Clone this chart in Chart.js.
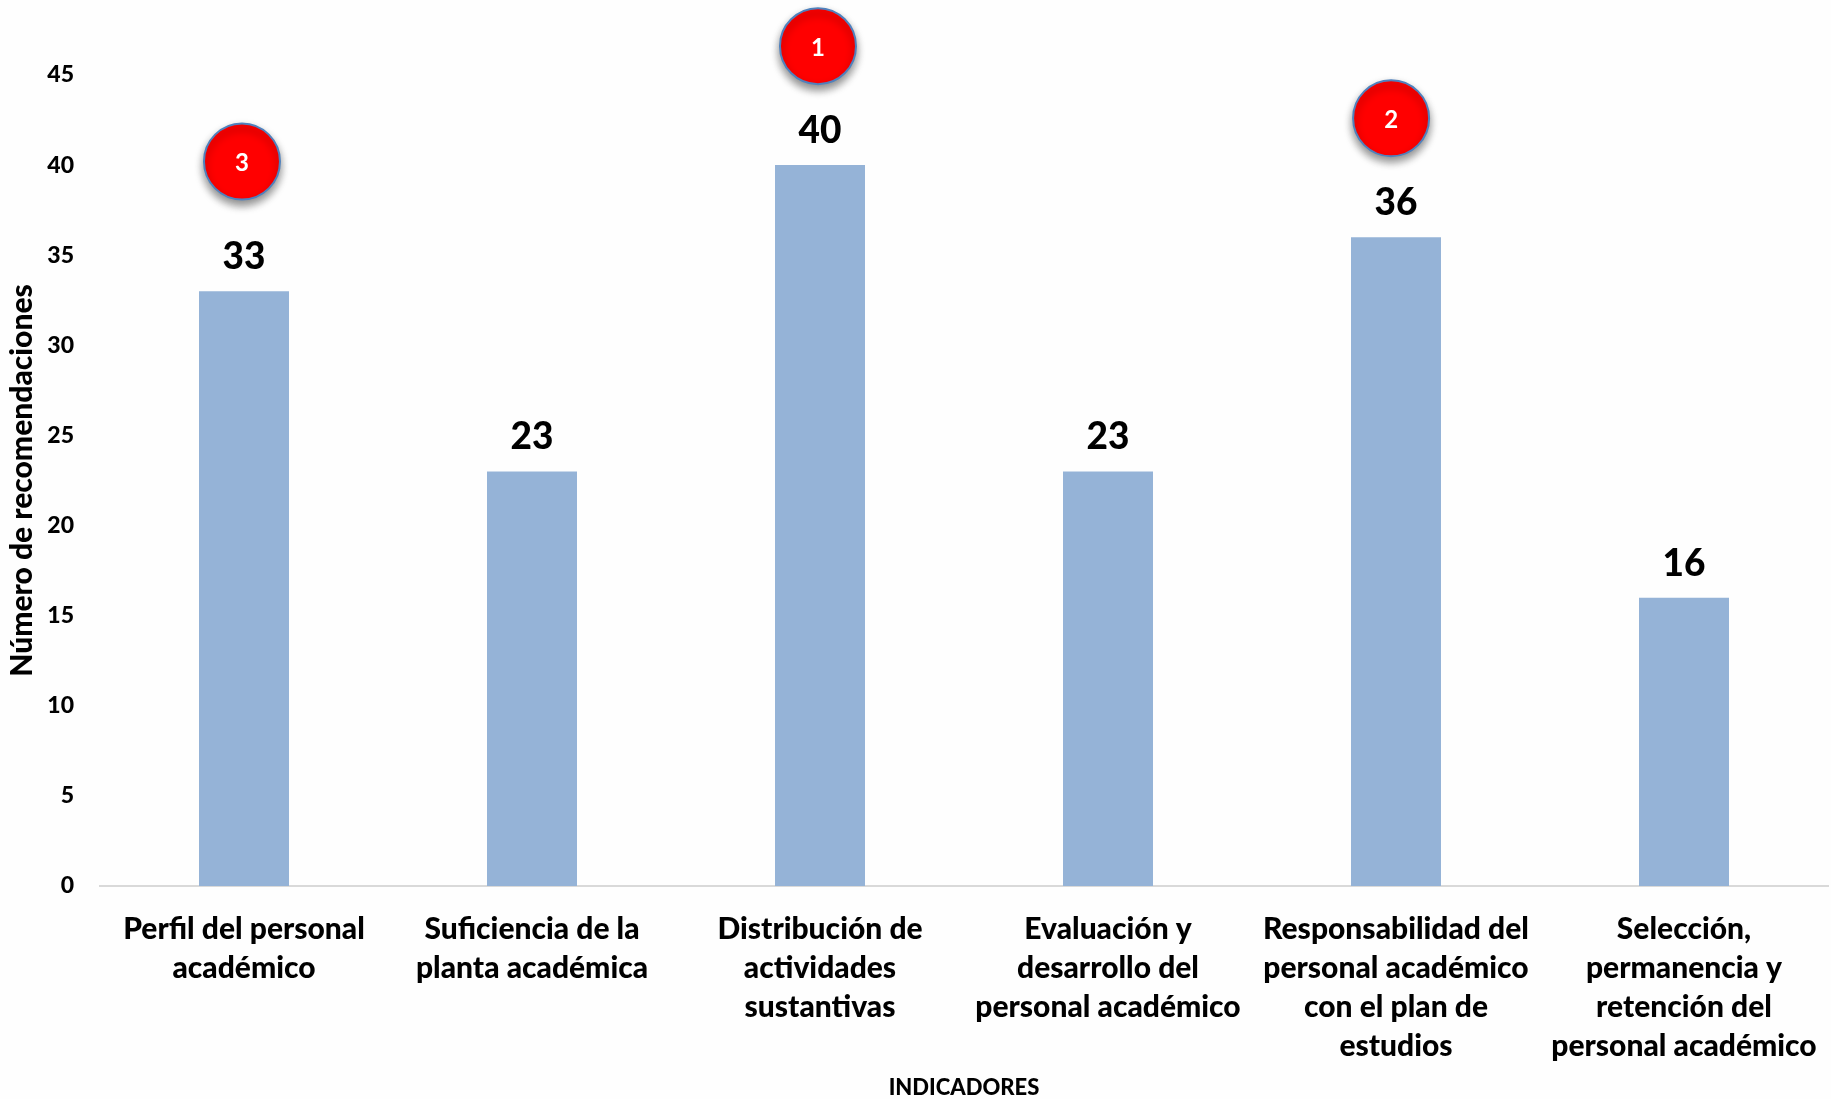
<!DOCTYPE html>
<html>
<head>
<meta charset="utf-8">
<script src="https://cdn.jsdelivr.net/npm/chart.js@4"></script>
<style>
html,body{margin:0;padding:0;background:#fefefe;}
#wrap{width:1831px;height:1099px;}
</style>
</head>
<body>
<div id="wrap"><canvas id="c" width="1831" height="1099"></canvas></div>
<script>
const categories = [
  ['Perfil del personal','académico'],
  ['Suficiencia de la','planta académica'],
  ['Distribución de','actividades','sustantivas'],
  ['Evaluación y','desarrollo del','personal académico'],
  ['Responsabilidad del','personal académico','con el plan de','estudios'],
  ['Selección,','permanencia y','retención del','personal académico']
];
const values = [33,23,40,23,36,16];
const yMax = 45;
const yStep = 5;
// red rank badges, in data units
const badgeRanks = [3,1,2];
const badgeX = [-0.007,1.993,3.983];
const badgeY = [40.2,46.6,42.6];

const FONT = 'Lato, Carlito, "Open Sans", sans-serif';

const overlay = {
  id:'overlay',
  beforeDatasetDraw(chart,args){
    if(args.index!==1) return;
    const ctx = chart.ctx;
    ctx.save();
    ctx.shadowColor = 'rgba(0,0,0,0.45)';
    ctx.shadowBlur = 8;
    ctx.shadowOffsetY = 5;
  },
  afterDatasetDraw(chart,args){
    if(args.index===1) chart.ctx.restore();
  },
  afterDatasetsDraw(chart){
    const ctx = chart.ctx;
    ctx.save();
    ctx.textAlign = 'center';
    ctx.textBaseline = 'middle';
    // value labels above the bars
    ctx.fillStyle = '#000';
    ctx.font = '900 37px '+FONT;
    chart.getDatasetMeta(0).data.forEach((bar,i)=>{
      ctx.fillText(String(values[i]), bar.x, bar.y-34);
    });
    // numbers in the badges
    ctx.fillStyle = '#fff';
    ctx.font = 'bold 24px '+FONT;
    chart.getDatasetMeta(1).data.forEach((pt,i)=>{
      ctx.fillText(String(badgeRanks[i]), pt.x, pt.y+2);
    });
    ctx.restore();
  }
};

new Chart(document.getElementById('c').getContext('2d'),{
  type:'bar',
  data:{
    labels:categories,
    datasets:[
      {
        data:values,
        backgroundColor:'#95b3d7',
        borderWidth:0,
        barPercentage:1,
        categoryPercentage:0.3125,
        grouped:false,
        order:2
      },
      {
        type:'line',
        xAxisID:'xBadge',
        showLine:false,
        data:badgeX.map((x,i)=>({x:x,y:badgeY[i]})),
        pointRadius:38,
        pointHoverRadius:38,
        pointBackgroundColor:'#ff0000',
        pointBorderColor:'#4f81bd',
        pointBorderWidth:2,
        clip:false,
        order:1
      }
    ]
  },
  options:{
    responsive:false,
    animation:false,
    layout:{autoPadding:false,padding:{top:75,right:3,left:0,bottom:0}},
    plugins:{legend:{display:false},tooltip:{enabled:false}},
    scales:{
      x:{
        grid:{display:false,drawTicks:false},
        border:{color:'#d9d9d9',width:2},
        ticks:{
          color:'#000',
          autoSkip:false,
          maxRotation:0,
          minRotation:0,
          padding:24,
          font:{family:FONT,size:30,weight:'900',lineHeight:39/30}
        },
        title:{
          display:true,
          text:'INDICADORES',
          color:'#000',
          font:{family:FONT,size:22,weight:'900',lineHeight:1},
          padding:0
        },
        afterFit(s){ s.height = 213; s.paddingLeft = 0; s.paddingRight = 0; }
      },
      xBadge:{
        type:'linear',
        display:false,
        offset:false,
        min:-0.5,
        max:5.5
      },
      y:{
        min:0,
        max:yMax,
        grid:{display:false,drawTicks:false},
        border:{display:false},
        ticks:{
          stepSize:yStep,
          color:'#000',
          padding:26,
          font:{family:FONT,size:23,weight:'900'}
        },
        title:{
          display:true,
          text:'Número de recomendaciones',
          color:'#000',
          font:{family:FONT,size:30,weight:'900'},
          padding:{top:4,bottom:0}
        },
        afterFit(s){ s.width = 100; }
      }
    }
  },
  plugins:[overlay]
});
</script>
</body>
</html>
